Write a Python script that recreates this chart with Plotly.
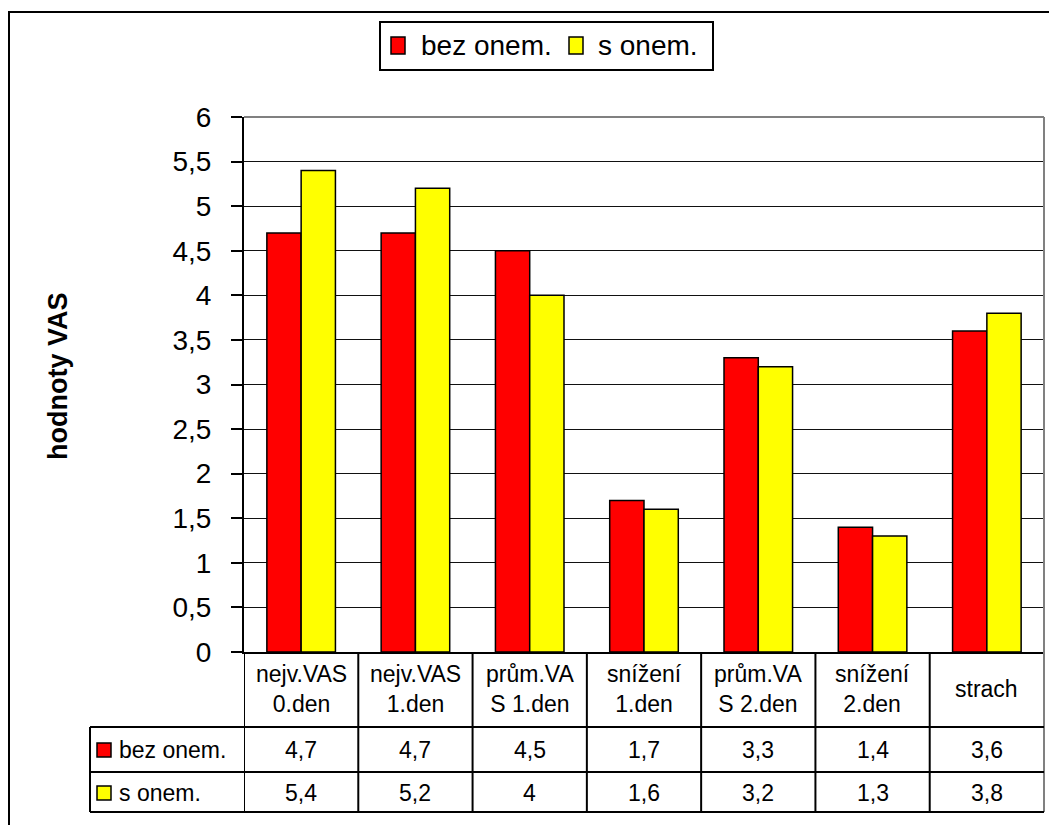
import plotly.graph_objects as go

# --- data ---
categories = ["nejv.VAS<br>0.den", "nejv.VAS<br>1.den", "prům.VA<br>S 1.den",
              "snížení<br>1.den", "prům.VA<br>S 2.den", "snížení<br>2.den", "strach"]
series_names = ["bez onem.", "s onem."]
bez_onem = [4.7, 4.7, 4.5, 1.7, 3.3, 1.4, 3.6]
s_onem = [5.4, 5.2, 4.0, 1.6, 3.2, 1.3, 3.8]
y_ticks = [0, 0.5, 1, 1.5, 2, 2.5, 3, 3.5, 4, 4.5, 5, 5.5, 6]
y_title = "hodnoty VAS"

series_values = [bez_onem, s_onem]
colors = ["#FF0000", "#FFFF00"]

# --- geometry (pixels) ---
W, H = 1049, 825
L, R, T, B = 244, 1044, 117, 652
FONT = "Liberation Sans, Arial, sans-serif"


def px(x):
    return (x - L) / (R - L)


def py(y):
    return (B - y) / (B - T)


def fmt(v):
    return f"{v:g}".replace(".", ",")


x_pos = list(range(len(categories)))

fig = go.Figure()
for name, vals, col in zip(series_names, series_values, colors):
    fig.add_trace(go.Bar(
        x=x_pos, y=vals, name=name,
        marker=dict(color=col, line=dict(color="black", width=1.5)),
        showlegend=False,
    ))

shapes = []
annotations = []

# outer chart frame
shapes.append(dict(type="rect", xref="paper", yref="paper",
                   x0=px(9), y0=py(12), x1=px(1080), y1=py(860),
                   line=dict(color="black", width=2)))

# plot-area border (top and right)
shapes.append(dict(type="line", xref="paper", yref="paper",
                   x0=0, x1=1, y0=1, y1=1, line=dict(color="#808080", width=2)))
shapes.append(dict(type="line", xref="paper", yref="paper",
                   x0=1, x1=1, y0=py(812), y1=1, line=dict(color="#808080", width=2)))

# legend box
shapes.append(dict(type="rect", xref="paper", yref="paper",
                   x0=px(380), y0=py(22), x1=px(713), y1=py(70),
                   line=dict(color="black", width=2), fillcolor="white"))
legend_items = [(391, 419), (569, 596)]
for (sx, tx), name, col in zip(legend_items, series_names, colors):
    shapes.append(dict(type="rect", xref="paper", yref="paper",
                       x0=px(sx), x1=px(sx + 14), y0=py(37), y1=py(54),
                       line=dict(color="black", width=1.5), fillcolor=col))
    annotations.append(dict(xref="paper", yref="paper", x=px(tx), y=py(46),
                            text=name, showarrow=False, xanchor="left", yanchor="middle",
                            font=dict(family=FONT, size=28, color="black")))

# data table lines
row_lines = [727, 772, 812]
for yy in row_lines:
    shapes.append(dict(type="line", xref="paper", yref="paper",
                       x0=px(90), x1=1, y0=py(yy), y1=py(yy),
                       line=dict(color="black", width=2)))
shapes.append(dict(type="line", xref="paper", yref="paper",
                   x0=px(90), x1=px(90), y0=py(727), y1=py(812),
                   line=dict(color="black", width=2)))
for k in range(len(categories)):
    shapes.append(dict(type="line", xref="x", yref="paper",
                       x0=k - 0.5, x1=k - 0.5, y0=py(812), y1=0,
                       line=dict(color="black", width=2)))

# category header cells
for i, cat in enumerate(categories):
    annotations.append(dict(xref="x", yref="paper", x=i, y=py(689),
                            text=cat, showarrow=False, xanchor="center", yanchor="middle",
                            font=dict(family=FONT, size=23, color="black")))

# series rows
row_centers = [750, 793]
for yc, name, vals, col in zip(row_centers, series_names, series_values, colors):
    shapes.append(dict(type="rect", xref="paper", yref="paper",
                       x0=px(97), x1=px(111), y0=py(yc - 7), y1=py(yc + 7),
                       line=dict(color="black", width=1.5), fillcolor=col))
    annotations.append(dict(xref="paper", yref="paper", x=px(117), y=py(yc),
                            text=name, showarrow=False, xanchor="left", yanchor="middle",
                            font=dict(family=FONT, size=23, color="black")))
    for i, v in enumerate(vals):
        annotations.append(dict(xref="x", yref="paper", x=i, y=py(yc),
                                text=fmt(v), showarrow=False, xanchor="center", yanchor="middle",
                                font=dict(family=FONT, size=23, color="black")))

# y-axis title
annotations.append(dict(xref="paper", yref="paper", x=px(58), y=py(377),
                        text=f"<b>{y_title}</b>", textangle=-90, showarrow=False,
                        xanchor="center", yanchor="middle",
                        font=dict(family=FONT, size=27, color="black")))

fig.update_layout(
    width=W, height=H,
    margin=dict(l=L, r=W - R, t=T, b=H - B, autoexpand=False),
    paper_bgcolor="white", plot_bgcolor="white",
    barmode="group", bargap=0.4, bargroupgap=0,
    separators=", ",
    shapes=shapes, annotations=annotations,
    font=dict(family=FONT, color="black"),
)
fig.update_xaxes(range=[-0.5, len(categories) - 0.5], showticklabels=False, ticks="",
                 showgrid=False, zeroline=False, showline=True, linecolor="black", linewidth=2)
fig.update_yaxes(range=[0, 6], tickvals=y_ticks, ticks="outside", ticklen=11, tickwidth=1.5,
                 tickcolor="black", showline=True, linecolor="black", linewidth=2,
                 showgrid=True, gridcolor="#111111", gridwidth=1.2, zeroline=False,
                 ticklabelstandoff=14, tickfont=dict(family=FONT, size=28, color="black"))

fig.write_html("out.html")
